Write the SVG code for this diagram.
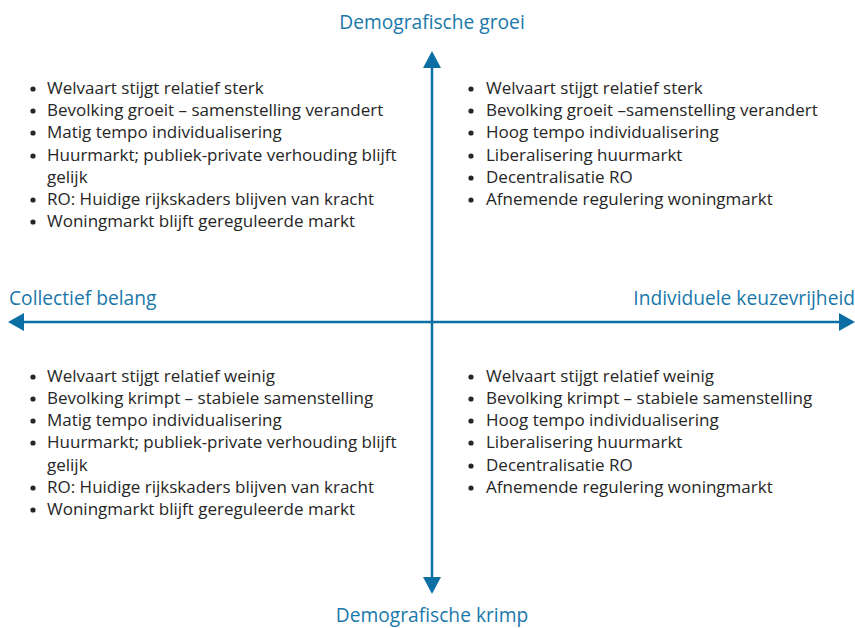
<svg xmlns="http://www.w3.org/2000/svg" width="855" height="628" viewBox="0 0 855 628">
<style>
.t{font-family:"Open Sans",Lato,sans-serif;font-size:17px;fill:#262626}
.h{font-family:"Open Sans",Lato,sans-serif;font-size:19.2px;fill:#1a78aa}
.ax{stroke:#0b6fa3;stroke-width:2.5;fill:none}
.ah{fill:#0b6fa3}
.b{fill:#262626}
</style>
<defs><circle id="bul" r="2.6"/></defs>
<rect width="855" height="628" fill="#fff"/>
<g id="connectors">
<line class="ax" x1="432" y1="66" x2="432" y2="580"/>
<line class="ax" x1="22" y1="322" x2="841" y2="322"/>
<polygon class="ah" points="432,51 441,68 423,68"/>
<polygon class="ah" points="432,594 441,577 423,577"/>
<polygon class="ah" points="8,322 24,313 24,331"/>
<polygon class="ah" points="855,322 839,313 839,331"/>
</g>
<g id="label-top"><text class="h" x="432" y="29" text-anchor="middle">Demografische groei</text></g>
<g id="label-bottom"><text class="h" x="432" y="622" text-anchor="middle">Demografische krimp</text></g>
<g id="label-left"><text class="h" x="9" y="305">Collectief belang</text></g>
<g id="label-right"><text class="h" x="855" y="305" text-anchor="end">Individuele keuzevrijheid</text></g>
<g id="q-top-left">
<g class="b"><use href="#bul" x="33" y="89"/><use href="#bul" x="33" y="111"/><use href="#bul" x="33" y="133"/><use href="#bul" x="33" y="156"/><use href="#bul" x="33" y="200"/><use href="#bul" x="33" y="222"/></g>
<g class="t">
<text x="47" y="94">Welvaart stijgt relatief sterk</text>
<text x="47" y="116">Bevolking groeit – samenstelling verandert</text>
<text x="47" y="138">Matig tempo individualisering</text>
<text x="47" y="161">Huurmarkt; publiek-private verhouding blijft</text>
<text x="47" y="183">gelijk</text>
<text x="47" y="205">RO: Huidige rijkskaders blijven van kracht</text>
<text x="47" y="227">Woningmarkt blijft gereguleerde markt</text>
</g>
</g>
<g id="q-top-right">
<g class="b"><use href="#bul" x="471" y="89"/><use href="#bul" x="471" y="111"/><use href="#bul" x="471" y="133"/><use href="#bul" x="471" y="156"/><use href="#bul" x="471" y="178"/><use href="#bul" x="471" y="200"/></g>
<g class="t">
<text x="486" y="94">Welvaart stijgt relatief sterk</text>
<text x="486" y="116">Bevolking groeit –samenstelling verandert</text>
<text x="486" y="138">Hoog tempo individualisering</text>
<text x="486" y="161">Liberalisering huurmarkt</text>
<text x="486" y="183">Decentralisatie RO</text>
<text x="486" y="205">Afnemende regulering woningmarkt</text>
</g>
</g>
<g id="q-bottom-left">
<g class="b"><use href="#bul" x="33" y="377"/><use href="#bul" x="33" y="399"/><use href="#bul" x="33" y="421"/><use href="#bul" x="33" y="443"/><use href="#bul" x="33" y="488"/><use href="#bul" x="33" y="510"/></g>
<g class="t">
<text x="47" y="382">Welvaart stijgt relatief weinig</text>
<text x="47" y="404">Bevolking krimpt – stabiele samenstelling</text>
<text x="47" y="426">Matig tempo individualisering</text>
<text x="47" y="448">Huurmarkt; publiek-private verhouding blijft</text>
<text x="47" y="471">gelijk</text>
<text x="47" y="493">RO: Huidige rijkskaders blijven van kracht</text>
<text x="47" y="515">Woningmarkt blijft gereguleerde markt</text>
</g>
</g>
<g id="q-bottom-right">
<g class="b"><use href="#bul" x="471" y="377"/><use href="#bul" x="471" y="399"/><use href="#bul" x="471" y="421"/><use href="#bul" x="471" y="443"/><use href="#bul" x="471" y="466"/><use href="#bul" x="471" y="488"/></g>
<g class="t">
<text x="486" y="382">Welvaart stijgt relatief weinig</text>
<text x="486" y="404">Bevolking krimpt – stabiele samenstelling</text>
<text x="486" y="426">Hoog tempo individualisering</text>
<text x="486" y="448">Liberalisering huurmarkt</text>
<text x="486" y="471">Decentralisatie RO</text>
<text x="486" y="493">Afnemende regulering woningmarkt</text>
</g>
</g>
</svg>
